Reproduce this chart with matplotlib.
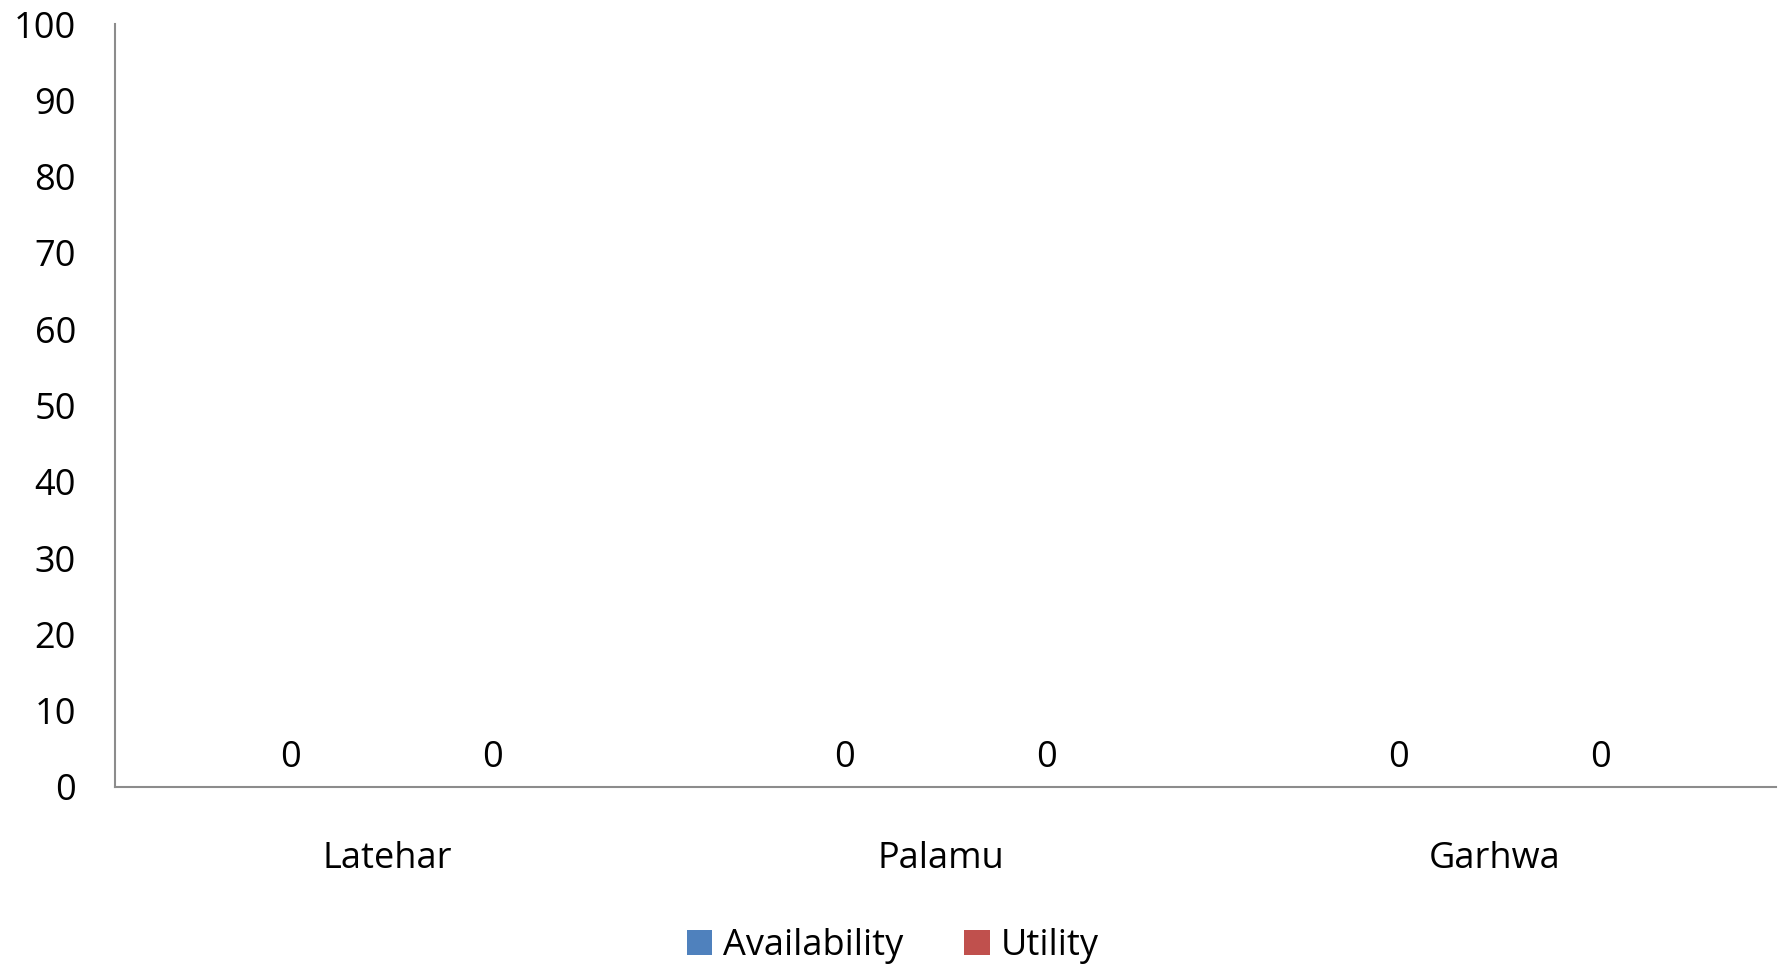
import matplotlib.pyplot as plt
import matplotlib.transforms as mtransforms
import numpy as np

plt.rcParams['font.family'] = ['Open Sans', 'DejaVu Sans']

# data
districts = ['Latehar', 'Palamu', 'Garhwa']
availability = [0, 0, 0]
utility = [0, 0, 0]

fig = plt.figure(figsize=(17.85, 9.64), dpi=100)
ax = fig.add_axes([115 / 1785, 1 - 787 / 964, (1776 - 115) / 1785, (787 - 24) / 964])

x = np.arange(len(districts))
w = 0.365
b1 = ax.bar(x - w / 2, availability, w, color='#4F81BD', label='Availability')
b2 = ax.bar(x + w / 2, utility, w, color='#C0504D', label='Utility')
ax.bar_label(b1, padding=8, fontsize=26)
ax.bar_label(b2, padding=8, fontsize=26)

ax.set_xlim(-0.5, 2.5)
ax.set_ylim(0, 100)
ax.set_yticks(range(0, 101, 10))
ax.set_xticks(x)
ax.set_xticklabels(districts)
ax.tick_params(axis='y', length=0, pad=28, labelsize=26)
ax.tick_params(axis='x', length=0, pad=39, labelsize=26)

# category labels sit a little left of the group centre
shift = mtransforms.ScaledTranslation(-4.5 / 100, 0, fig.dpi_scale_trans)
for lab in ax.get_xticklabels():
    lab.set_transform(lab.get_transform() + shift)

for s in ['top', 'right']:
    ax.spines[s].set_visible(False)
for s in ['left', 'bottom']:
    ax.spines[s].set_color('#8c8c8c')
    ax.spines[s].set_linewidth(1.5)

fig.legend(loc='center', bbox_to_anchor=(0.5, 1 - 946 / 964), ncol=2, frameon=False,
           fontsize=26, handlelength=0.7, handleheight=0.7, handletextpad=0.3,
           columnspacing=1.7)

plt.savefig('out.png', dpi=100)
